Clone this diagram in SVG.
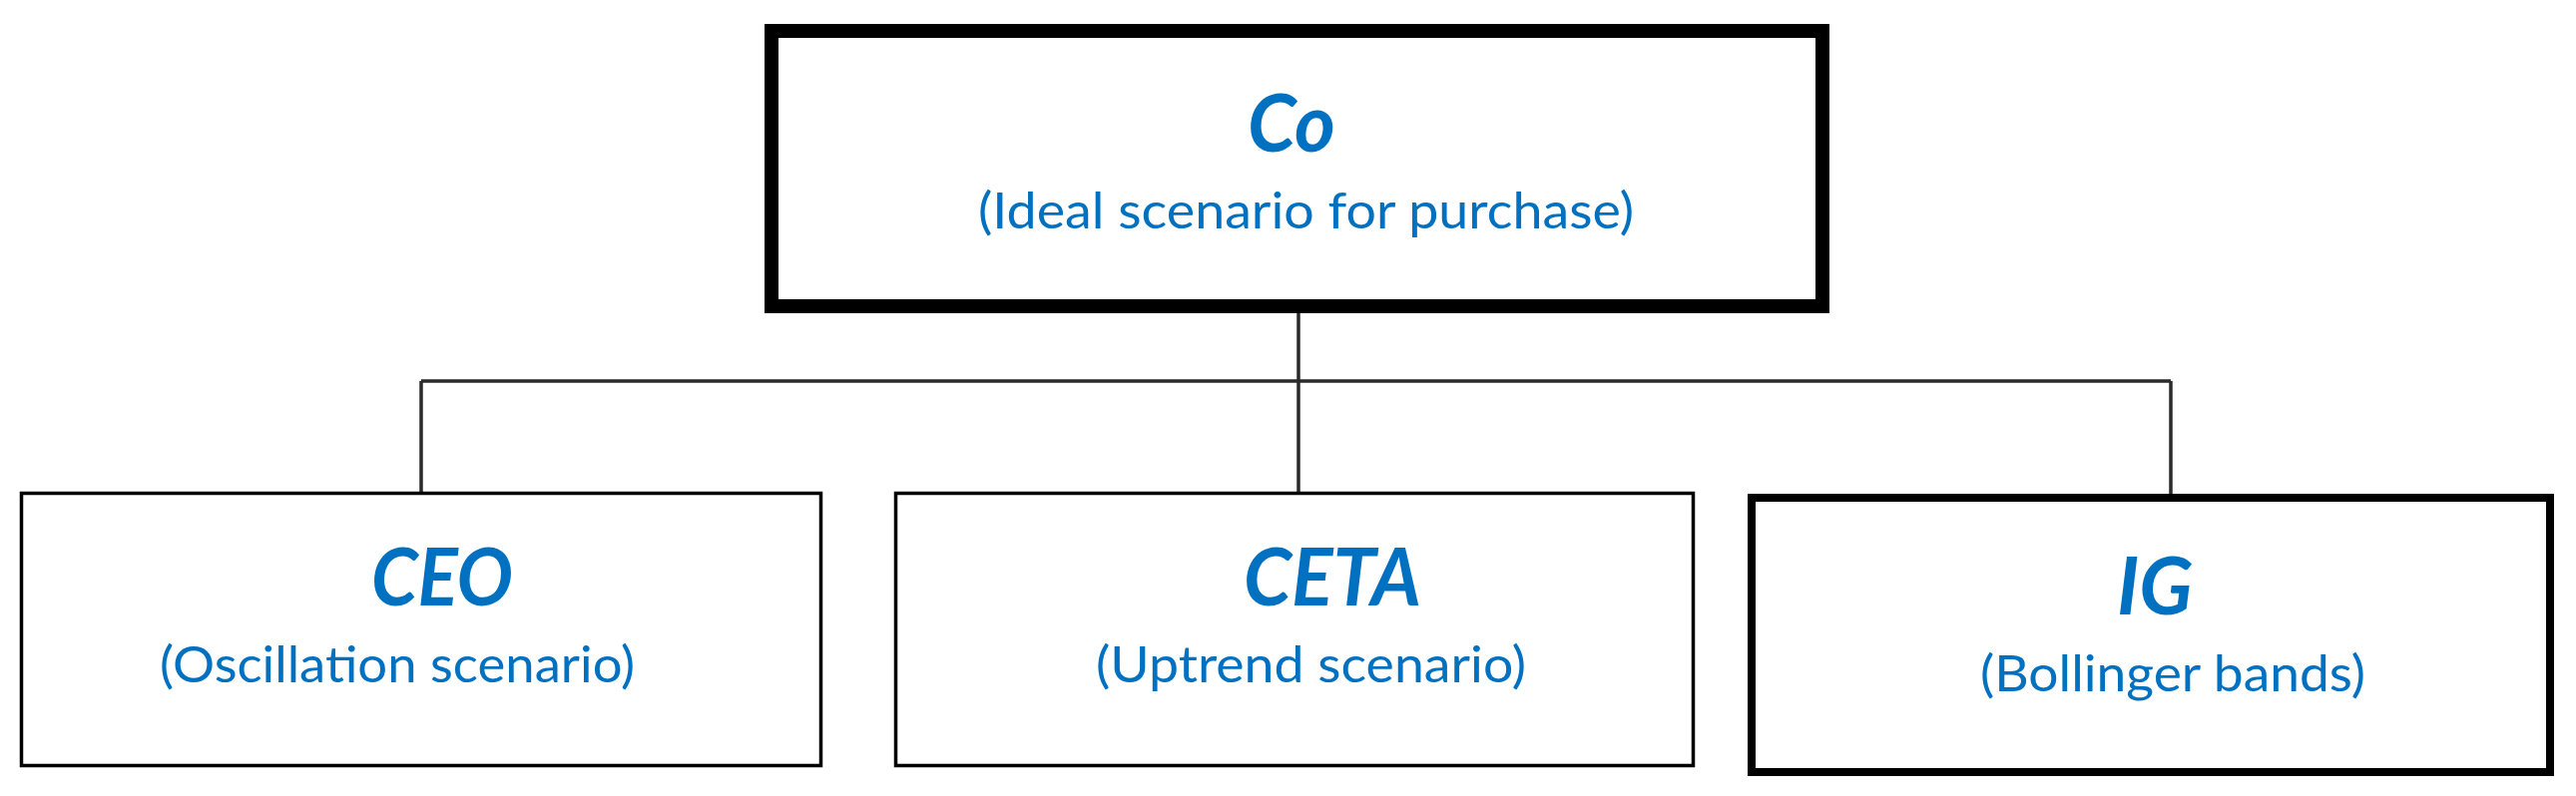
<svg xmlns="http://www.w3.org/2000/svg" width="2581" height="798" viewBox="0 0 2581 798">
<style>
.box{fill:#fff;stroke:#000}
.thin{stroke-width:3.5}
.title{font-family:Lato,"Open Sans","Liberation Sans",sans-serif;font-weight:bold;font-style:italic;font-size:80px;fill:#0070C0}
.sub{font-family:Lato,"Open Sans","Liberation Sans",sans-serif;font-size:50px;fill:#0070C0}
.conn{fill:none;stroke:#2a2a2a;stroke-width:3.5}
</style>
<rect width="2581" height="798" fill="#fff"/>
<g id="connectors">
<path class="conn" d="M1301 314 V494 M422 382 H2175 M422 382 V494 M2175 382 V496"/>
</g>
<g id="node-co">
<rect class="box" x="773" y="31" width="1053" height="276" stroke-width="14"/>
<text class="title" x="1250" y="152" textLength="88" lengthAdjust="spacingAndGlyphs">Co</text>
<text class="sub" x="980" y="229" textLength="657" lengthAdjust="spacingAndGlyphs">(Ideal scenario for purchase)</text>
</g>
<g id="node-ceo">
<rect class="box thin" x="21.5" y="494.5" width="801" height="273"/>
<text class="title" x="372" y="607" textLength="142" lengthAdjust="spacingAndGlyphs">CEO</text>
<text class="sub" x="160" y="684" textLength="476" lengthAdjust="spacingAndGlyphs">(Oscillation scenario)</text>
</g>
<g id="node-ceta">
<rect class="box thin" x="897.5" y="494.5" width="799" height="273"/>
<text class="title" x="1246" y="607" textLength="178" lengthAdjust="spacingAndGlyphs">CETA</text>
<text class="sub" x="1098" y="684" textLength="431" lengthAdjust="spacingAndGlyphs">(Uptrend scenario)</text>
</g>
<g id="node-ig">
<rect class="box" x="1755" y="499" width="800" height="275" stroke-width="8"/>
<text class="title" x="2121" y="616" textLength="76" lengthAdjust="spacingAndGlyphs">IG</text>
<text class="sub" x="1984" y="693" textLength="386" lengthAdjust="spacingAndGlyphs">(Bollinger bands)</text>
</g>
</svg>
